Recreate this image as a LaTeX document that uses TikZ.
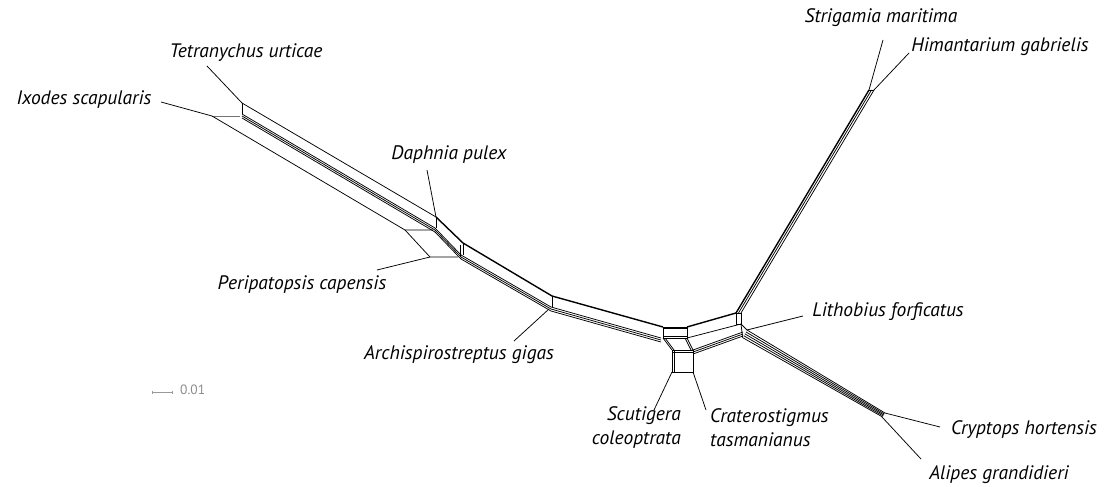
\documentclass[tikz,border=0pt]{standalone}
\usepackage{fontspec}
\setmainfont{PT Sans}
\usetikzlibrary{calc}
\begin{document}
\begin{tikzpicture}[x=1pt,y=-1pt,
  net/.style={line width=0.75pt, black},
  thk/.style={line width=1.4pt, black},
  leaf/.style={line width=0.75pt, black},
  lab/.style={font=\fontsize{19.5}{24}\selectfont\itshape, inner sep=0pt},
  scalebar/.style={line width=0.8pt, black!40}]
\useasboundingbox (0,0) rectangle (1117,487);

% ---- labels
\node[lab] (strig) at (881,18) {Strigamia maritima};
\node[lab] (himan) at (1000,47) {Himantarium gabrielis};
\node[lab] (tetra) at (246,53) {Tetranychus urticae};
\node[lab] (ixod) at (84,100) {Ixodes scapularis};
\node[lab] (daph) at (449,155) {Daphnia pulex};
\node[lab] (perip) at (302,285) {Peripatopsis capensis};
\node[lab] (litho) at (888,312) {Lithobius forficatus};
\node[lab] (archi) at (459,355) {Archispirostreptus gigas};
\node[lab, align=right, anchor=east] (scut) at (681,428) {Scutigera\\coleoptrata};
\node[lab, align=left, anchor=west] (crat) at (710,428) {Craterostigmus\\tasmanianus};
\node[lab] (crypt) at (1024,430) {Cryptops hortensis};
\node[lab] (alip) at (999,475) {Alipes grandidieri};
\node[font=\fontsize{13.5}{16}\selectfont, text=black!45, inner sep=0pt, anchor=west] (sbl) at (180,390) {0.01};

% ---- coordinates
\coordinate (ixE) at (161,102);
\coordinate (a1) at (212,116);
\coordinate (a2) at (240,116);
\coordinate (tetE) at (207,66);
\coordinate (t1) at (242,103);
\coordinate (t2) at (242,114);
\coordinate (d1) at (436,217);
\coordinate (d2) at (436,228);
\coordinate (p1) at (405,230);
\coordinate (p1r) at (433,230);
\coordinate (p2) at (430,257);
\coordinate (p2r) at (458,257);
\coordinate (perE) at (377,270);
\coordinate (daE) at (427,170);
\coordinate (d3) at (463,243);
\coordinate (d4) at (463,255);
\coordinate (r1) at (552,296);
\coordinate (r2) at (552,307);
\coordinate (arE) at (514,341);
\coordinate (arJ) at (549,309);
\coordinate (b1) at (663,327);
\coordinate (b2) at (687,327);
\coordinate (b3) at (687,338);
\coordinate (b4) at (663,338);
\coordinate (c1) at (672,350);
\coordinate (c2) at (693,350);
\coordinate (c3) at (693,372);
\coordinate (c4) at (672,372);
\coordinate (j1) at (736,313);
\coordinate (j2) at (741,313);
\coordinate (j3) at (741,324);
\coordinate (j4) at (747,330);
\coordinate (h1) at (869,90);
\coordinate (h2) at (874,90);
\coordinate (strE) at (883,40);
\coordinate (himE) at (909,53);
\coordinate (litE) at (803,316);
\coordinate (k1) at (885,413);
\coordinate (k2) at (882,417);
\coordinate (cryE) at (940,427);
\coordinate (aliE) at (921,459);
\coordinate (scE) at (654,410);
\coordinate (crE) at (706,410);
\coordinate (sb1) at (152,392);
\coordinate (sb2) at (172,392);

% ---- leaves
\draw[leaf] (ixE) -- (a1);
\draw[leaf] (tetE) -- (t1);
\draw[leaf] (perE) -- (p2);
\draw[leaf] (daE) -- (d1);
\draw[leaf] (arE) -- (arJ);
\draw[leaf] (strE) -- (h1);
\draw[leaf] (himE) -- (h2);
\draw[leaf] (litE) -- (j4);
\draw[leaf] (cryE) -- (k1);
\draw[leaf] (aliE) -- (k2);
\draw[leaf] (scE) -- (c4);
\draw[leaf] (crE) -- (c3);

% ---- left part
\draw[line width=1pt, black!55] (a1) -- (a2);
\draw[net] (t1) -- (t2);
\draw[net] (t1) -- (d1);
\foreach \o in {0,2,4} \draw[net] ($(t2)+(0,\o)$) -- ($(d2)+(-1,\o)$);
\draw[net] (a1) -- (p1) -- (p1r);
\draw[net] (p1) -- (p2) -- (p2r);

% ---- Daphnia
\draw[net] (d1) -- (d2);
\draw[thk] (d1) -- (d3);
\foreach \o in {0,2,4} \draw[net] ($(d2)+(-1,\o)$) -- ($(d4)+(-2,\o)$);
\draw[net] (d3) -- (d4);
\draw[net] (460,245) -- (460,256);

% ---- Daphnia -> Archispirostreptus
\draw[thk] (d3) -- (r1);
\foreach \o in {0,2,4} \draw[net] ($(d4)+(-2,\o)$) -- ($(r2)+(-1,\o)$);
\draw[net] (r1) -- (r2);

% ---- Archispirostreptus -> centre
\draw[thk] (r1) -- (b1);
\foreach \o in {0,2,4} \draw[net] ($(r2)+(-1,\o)$) -- ($(b4)+(-2,\o)$);

% ---- boxes
\draw[net] (b1) rectangle (b3);
\draw[net] ($(b1)+(0,1.8)$) -- ($(b2)+(0,1.8)$);
\draw[net] ($(b4)+(0,-1.8)$) -- ($(b3)+(0,-1.8)$);
\draw[net] (b4) -- (c1);
\draw[net] ($(b4)+(2,0)$) -- ($(c1)+(2,0)$);
\draw[net] (b3) -- (c2);
\draw[net] ($(b3)+(-2,0)$) -- ($(c2)+(-2,0)$);
\draw[net] (c1) rectangle (c3);
\draw[net] ($(c1)+(2,0)$) -- ($(c4)+(2,0)$);
\draw[net] ($(c1)+(0,2)$) -- ($(c2)+(0,2)$);

% ---- centre -> right junction
\draw[thk] (b2) -- (j1);
\draw[net] (b3) -- (j3);
\draw[net] (c2) -- ($(j4)+(-4,2)$);
\draw[net] ($(c2)+(0,2)$) -- ($(j4)+(-4,4)$);
\draw[net] ($(c2)+(0,4)$) -- ($(j4)+(-4,6)$);
\draw[net] (j1) -- (j2) -- (j3) -- (j1|-j3) -- cycle;
\draw[net] (j3) -- (j4);

% ---- Himantarium band
\draw[thk] (j1) -- (h1);
\draw[net] ($(j1)+(2.5,0)$) -- ($(h1)+(2.5,0)$);
\draw[net] (j2) -- (h2);
\draw[net] (h1) -- (h2);

% ---- Cryptops band
\foreach \k in {0,1,2,3,4}
  \draw[net] ($(j4)+(-1.1*\k,1.9*\k)$) -- ($(k1)+(-0.6*\k,1*\k)$);
\draw[net] (j3) -- ($(j4)+(-4.4,7.6)$);

% ---- scale bar
\draw[scalebar] (sb1) -- (sb2);
\draw[scalebar] ($(sb1)+(0,-1.5)$) -- ($(sb1)+(0,1.5)$);
\draw[scalebar] ($(sb2)+(0,-1.5)$) -- ($(sb2)+(0,1.5)$);
\end{tikzpicture}
\end{document}
